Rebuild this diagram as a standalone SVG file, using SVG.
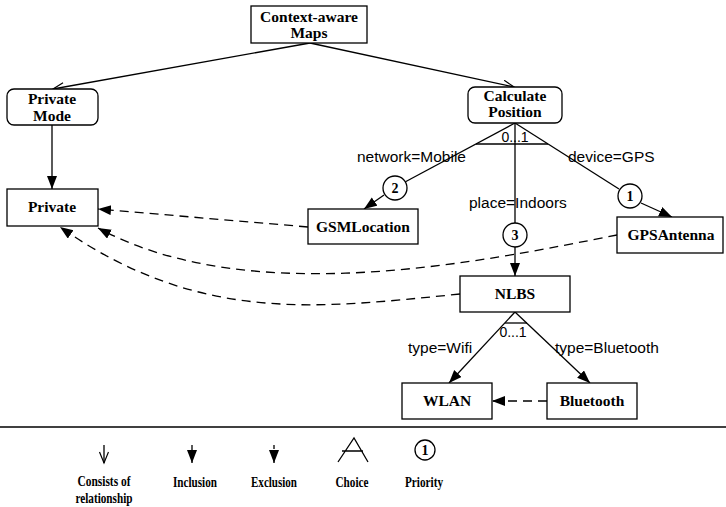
<svg xmlns="http://www.w3.org/2000/svg" width="726" height="507" viewBox="0 0 726 507">
  <style>
    .box { fill: #fff; stroke: #000; stroke-width: 1.3; }
    .ln { fill: none; stroke: #000; stroke-width: 1.3; }
    .dash { fill: none; stroke: #000; stroke-width: 1.3; stroke-dasharray: 9 6; }
    .nm { font-family: "Liberation Serif", "Times New Roman", serif; font-weight: bold; font-size: 15.5px; text-anchor: middle; fill: #000; }
    .lbl { font-family: "Liberation Sans", Arial, sans-serif; font-size: 15.5px; fill: #000; }
    .card { font-family: "Liberation Sans", Arial, sans-serif; font-size: 14px; text-anchor: middle; fill: #000; }
    .pri { fill: #fff; stroke: #000; stroke-width: 1.3; }
    .num { font-family: "Liberation Serif", "Times New Roman", serif; font-weight: bold; font-size: 14px; text-anchor: middle; fill: #000; }
    .leg { font-family: "Liberation Serif", "Times New Roman", serif; font-weight: bold; font-size: 15px; text-anchor: middle; fill: #000; }
  </style>
  <defs>
    <marker id="open" markerUnits="userSpaceOnUse" markerWidth="14" markerHeight="12" refX="12" refY="5" orient="auto">
      <path d="M1,0.5 L12,5 L1,9.5" fill="none" stroke="#000" stroke-width="1.2"/>
    </marker>
    <marker id="filled" markerUnits="userSpaceOnUse" markerWidth="14" markerHeight="12" refX="13" refY="5" orient="auto">
      <path d="M0,0 L13,5 L0,10 Z" fill="#000"/>
    </marker>
  </defs>

  <!-- connectors -->
  <g id="connectors">
    <line class="ln" x1="310" y1="43" x2="53" y2="89" marker-end="url(#open)"/>
    <line class="ln" x1="310" y1="43" x2="514" y2="87" marker-end="url(#open)"/>
    <line class="ln" x1="52" y1="125" x2="52" y2="189" marker-end="url(#filled)"/>

    <!-- choice under Calculate Position -->
    <line class="ln" x1="515" y1="123" x2="405" y2="182"/>
    <line class="ln" x1="515" y1="123" x2="515" y2="223"/>
    <line class="ln" x1="515" y1="123" x2="619" y2="189"/>
    <line class="ln" x1="476" y1="144" x2="548" y2="144"/>
    <line class="ln" x1="384" y1="195" x2="364" y2="209" marker-end="url(#filled)"/>
    <line class="ln" x1="641" y1="203" x2="672" y2="217" marker-end="url(#filled)"/>
    <line class="ln" x1="515" y1="247" x2="515" y2="276" marker-end="url(#filled)"/>

    <!-- choice under NLBS -->
    <line class="ln" x1="515" y1="312" x2="449" y2="383" marker-end="url(#filled)"/>
    <line class="ln" x1="515" y1="312" x2="590" y2="383" marker-end="url(#filled)"/>
    <line class="ln" x1="505" y1="323" x2="527" y2="323"/>

    <!-- exclusions -->
    <line class="dash" x1="308" y1="227" x2="98" y2="209" marker-end="url(#filled)"/>
    <path class="dash" d="M617,235 C480,262 250,310 98,228" marker-end="url(#filled)"/>
    <path class="dash" d="M460,294 C320,308 200,325 60,227" marker-end="url(#filled)"/>
    <line class="dash" x1="547" y1="401" x2="492" y2="401" marker-end="url(#filled)"/>
  </g>

  <!-- labels on connectors -->
  <g id="labels">
    <text class="card" x="515" y="142">0...1</text>
    <text class="card" x="513" y="337">0...1</text>
    <text class="lbl" x="357" y="162">network=Mobile</text>
    <text class="lbl" x="568" y="162">device=GPS</text>
    <text class="lbl" x="469" y="208">place=Indoors</text>
    <text class="lbl" x="408" y="353">type=Wifi</text>
    <text class="lbl" x="555" y="353">type=Bluetooth</text>
  </g>

  <!-- priorities -->
  <g id="priority-2"><circle class="pri" cx="395" cy="188" r="12"/><text class="num" x="395" y="193">2</text></g>
  <g id="priority-1"><circle class="pri" cx="630" cy="196" r="12"/><text class="num" x="630" y="201">1</text></g>
  <g id="priority-3"><circle class="pri" cx="515" cy="235" r="12"/><text class="num" x="515" y="240">3</text></g>

  <!-- nodes -->
  <g id="context-aware-maps">
    <rect class="box" x="251" y="6" width="116" height="37"/>
    <text class="nm" x="309" y="22">Context-aware</text>
    <text class="nm" x="309" y="38">Maps</text>
  </g>
  <g id="private-mode">
    <rect class="box" x="7" y="89" width="91" height="36" rx="7"/>
    <text class="nm" x="52" y="104">Private</text>
    <text class="nm" x="52" y="121">Mode</text>
  </g>
  <g id="calculate-position">
    <rect class="box" x="468" y="87" width="94" height="36" rx="7"/>
    <text class="nm" x="515" y="101">Calculate</text>
    <text class="nm" x="515" y="117">Position</text>
  </g>
  <g id="private">
    <rect class="box" x="7" y="189" width="91" height="37"/>
    <text class="nm" x="52" y="212">Private</text>
  </g>
  <g id="gsmlocation">
    <rect class="box" x="308" y="209" width="110" height="35"/>
    <text class="nm" x="363" y="232">GSMLocation</text>
  </g>
  <g id="gpsantenna">
    <rect class="box" x="617" y="217" width="106" height="36"/>
    <text class="nm" x="671" y="240">GPSAntenna</text>
  </g>
  <g id="nlbs">
    <rect class="box" x="460" y="276" width="110" height="36"/>
    <text class="nm" x="515" y="299">NLBS</text>
  </g>
  <g id="wlan">
    <rect class="box" x="402" y="383" width="90" height="36"/>
    <text class="nm" x="447" y="406">WLAN</text>
  </g>
  <g id="bluetooth">
    <rect class="box" x="547" y="383" width="90" height="36"/>
    <text class="nm" x="592" y="406">Bluetooth</text>
  </g>

  <!-- legend -->
  <g id="legend">
    <line x1="0" y1="427" x2="726" y2="427" stroke="#000" stroke-width="1.5"/>
    <line class="ln" x1="104" y1="445" x2="104" y2="463" marker-end="url(#open)"/>
    <line class="ln" x1="192" y1="445" x2="192" y2="463" marker-end="url(#filled)"/>
    <line class="ln" x1="274" y1="445" x2="274" y2="463" stroke-dasharray="4 3" marker-end="url(#filled)"/>
    <path class="ln" d="M338,462 L354,438 L368,462 M342,451 L363,451"/>
    <circle class="pri" cx="425" cy="450" r="10"/>
    <text class="num" x="425" y="455">1</text>
    <text class="leg" x="104" y="486" textLength="53" lengthAdjust="spacingAndGlyphs">Consists of</text>
    <text class="leg" x="104" y="503" textLength="57" lengthAdjust="spacingAndGlyphs">relationship</text>
    <text class="leg" x="195" y="487" textLength="44" lengthAdjust="spacingAndGlyphs">Inclusion</text>
    <text class="leg" x="274" y="487" textLength="46" lengthAdjust="spacingAndGlyphs">Exclusion</text>
    <text class="leg" x="352" y="487" textLength="33" lengthAdjust="spacingAndGlyphs">Choice</text>
    <text class="leg" x="424" y="487" textLength="38" lengthAdjust="spacingAndGlyphs">Priority</text>
  </g>
</svg>
